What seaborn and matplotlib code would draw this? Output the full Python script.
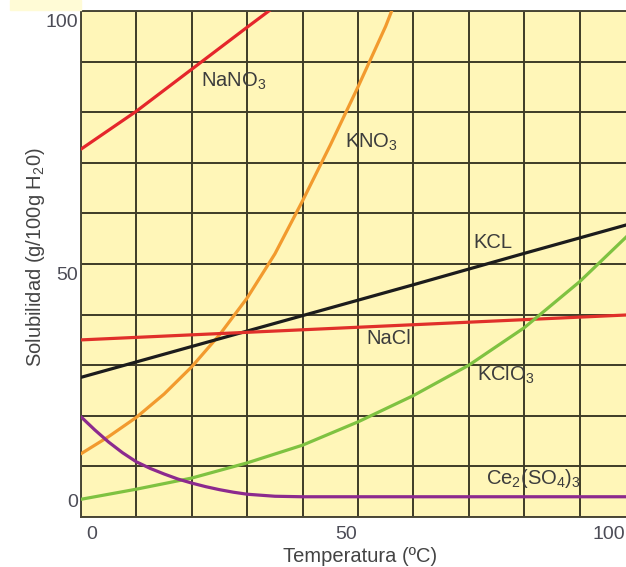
import numpy as np
import pandas as pd
import matplotlib
matplotlib.use("Agg")
import matplotlib.pyplot as plt
import seaborn as sns

# Solubility curves (g / 100 g water vs temperature in C)
nano3_t = [0, 10, 20, 30, 40]
nano3_s = [72.7, 80.2, 88.5, 96.8, 105.0]

kno3_t = [0, 5, 10, 15, 20, 25, 30, 35, 40, 45, 50, 55, 60]
kno3_s = [12.5, 15.9, 19.7, 24.3, 29.7, 36.0, 43.3, 52.0, 62.5, 73.5, 85.0, 97.0, 111.0]

kcl_t = [0, 20, 40, 60, 80, 100]
kcl_s = [27.6, 33.7, 39.8, 45.9, 52.1, 58.2]

nacl_t = [0, 20, 40, 60, 80, 100]
nacl_s = [35.0, 36.0, 37.0, 38.0, 39.0, 40.0]

kclo3_t = [0, 10, 20, 30, 40, 50, 60, 70, 80, 90, 100]
kclo3_s = [3.5, 5.5, 7.7, 10.7, 14.2, 18.8, 24.0, 30.0, 37.4, 46.5, 57.0]

ce_t = [0, 2.5, 5, 7.5, 10, 12.5, 15, 17.5, 20, 22.5, 25, 27.5, 30, 32.5, 35, 40, 45, 60, 80, 100]
ce_s = [19.8, 17.2, 14.8, 12.7, 10.9, 9.6, 8.5, 7.5, 6.7, 6.0, 5.4, 4.9, 4.5, 4.3, 4.1, 4.0, 4.0, 4.0, 4.0, 4.0]

series_names = ["NaNO3", "KNO3", "KCL", "NaCl", "KClO3", "Ce2(SO4)3"]
series_colors = ["#E5262B", "#F29A2E", "#1C1C1C", "#E0302A", "#7FC241", "#8C2A8E"]

xtick_vals = [0, 50, 100]
ytick_vals = [0, 50, 100]

xlabel = "Temperatura (ºC)"
ylabel = "Solubilidad (g/100g H$_{\\mathregular{2}}$0)"

rows = []
for name, t, s in zip(series_names,
                      [nano3_t, kno3_t, kcl_t, nacl_t, kclo3_t, ce_t],
                      [nano3_s, kno3_s, kcl_s, nacl_s, kclo3_s, ce_s]):
    for a, b in zip(t, s):
        rows.append({"T": a, "S": b, "sal": name})
df = pd.DataFrame(rows)

sns.set_style("white")
plt.rcParams["font.family"] = ["Liberation Sans", "DejaVu Sans"]
plt.rcParams["mathtext.fontset"] = "custom"
plt.rcParams["mathtext.rm"] = "Liberation Sans"
plt.rcParams["mathtext.it"] = "Liberation Sans:italic"
plt.rcParams["mathtext.bf"] = "Liberation Sans:bold"

fig = plt.figure(figsize=(6.26, 5.67), dpi=100)
fig.patch.set_facecolor("white")
# axes run a bit past the right edge, like the cropped original
ax = fig.add_axes([81 / 626, 50 / 567, 554 / 626, 506 / 567])
ax.set_facecolor("#FFF6B8")

# faint yellow strip at the top left of the original scan
fig.patches.append(plt.Rectangle((10 / 626, 557 / 567), 71 / 626, 10 / 567,
                                 transform=fig.transFigure, color="#FFFBD6",
                                 zorder=0))

sns.lineplot(data=df, x="T", y="S", hue="sal", hue_order=series_names,
             palette=dict(zip(series_names, series_colors)),
             linewidth=2.3, legend=False, ax=ax, zorder=3, sort=True)

ax.set_xlim(0, 100)
ax.set_ylim(0, 100)

# grid every 10 units
ax.set_xticks(xtick_vals)
ax.set_yticks(ytick_vals)
ax.set_xticks(np.arange(0, 101, 10), minor=True)
ax.set_yticks(np.arange(0, 101, 10), minor=True)
ax.grid(which="both", color="#3E3B27", linewidth=1.4, zorder=1)
ax.set_axisbelow(True)
ax.tick_params(which="minor", length=0)
ax.tick_params(which="major", direction="out", length=7, width=1.2,
               color="#555555", labelbottom=False, labelleft=False)
ax.xaxis.get_major_ticks()[0].tick1line.set_markersize(14)

for side in ["top", "left", "bottom"]:
    ax.spines[side].set_color("#4A4736")
    ax.spines[side].set_linewidth(1.4)
ax.spines["right"].set_visible(False)

ax.set_xlabel("")
ax.set_ylabel("")

tick_color = "#4C4C56"
fs = 14.5
tfs = 14
# x tick labels
xlab_pos = [(0.9, "left"), (49.8, "right"), (98.2, "right")]
for v, (xp, ha) in zip(xtick_vals, xlab_pos):
    ax.text(xp, -0.034, str(v), transform=ax.get_xaxis_transform(),
            ha=ha, va="center", fontsize=tfs, color=tick_color, clip_on=False)
# y tick labels
ylab_pos = [2.8, 47.8, 97.8]
for v, yp in zip(ytick_vals, ylab_pos):
    ax.text(-0.006, yp, str(v), transform=ax.get_yaxis_transform(),
            ha="right", va="center", fontsize=tfs, color=tick_color, clip_on=False)

fig.text(360 / 626, 1 - 556 / 567, xlabel, ha="center", va="center",
         fontsize=fs, color="#444444")
fig.text(36 / 626, 1 - 257 / 567, ylabel, ha="center", va="center",
         rotation=90, fontsize=fs, color="#444444")

# curve labels
curve_labels = [
    ("NaNO$_{\\mathregular{3}}$", 21.7, 86.0),
    ("KNO$_{\\mathregular{3}}$", 47.7, 74.1),
    ("KCL", 70.8, 54.3),
    ("NaCl", 51.6, 35.2),
    ("KClO$_{\\mathregular{3}}$", 71.5, 28.0),
    ("Ce$_{\\mathregular{2}}$(SO$_{\\mathregular{4}}$)$_{\\mathregular{3}}$", 73.1, 7.7),
]
for txt, xp, yp in curve_labels:
    ax.text(xp, yp, txt, ha="left", va="center", fontsize=fs,
            color="#3C3C3C", zorder=4)

fig.savefig("out.png", dpi=100)
